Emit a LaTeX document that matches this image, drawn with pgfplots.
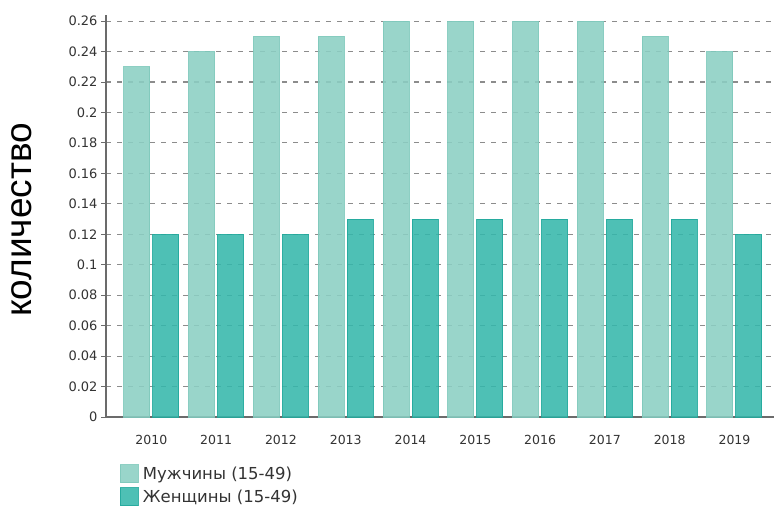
\documentclass[border=0pt]{standalone}
\usepackage{pgfplots}
\pgfplotsset{compat=1.18}
\usepackage{fontspec}
\setmainfont{DejaVu Sans}
\newfontfamily\labfont{Liberation Sans}
\definecolor{menc}{HTML}{8BCFC3}
\definecolor{menb}{HTML}{7FC9BC}
\definecolor{womc}{HTML}{35B7AB}
\definecolor{womb}{HTML}{22A99C}
\definecolor{axc}{HTML}{6B6B6B}
\definecolor{gridc}{HTML}{8C8C8C}
\definecolor{txt}{HTML}{333333}
\begin{document}
\begin{tikzpicture}
\path[use as bounding box] (0pt,0pt) rectangle (774pt,507pt);
\node[rotate=90, font=\labfont\fontsize{37}{37}\selectfont, text=black] at (22pt,287pt) {количество};
\begin{axis}[
  at={(106pt,90pt)}, anchor=south west,
  scale only axis, width=668pt, height=402pt,
  ybar=3pt, bar width=26pt,
  xmin=-0.7, xmax=9.61, ymin=0, ymax=0.264,
  xtick=data,
  xticklabels={2010,2011,2012,2013,2014,2015,2016,2017,2018,2019},
  ytick={0,0.02,...,0.261},
  axis x line*=bottom, axis y line*=left,
  axis line style={axc, line width=1.5pt},
  x tick style={draw=none},
  y tick style={axc, line width=1pt},
  major tick length=5pt,
  tick align=outside,
  ymajorgrids,
  grid style={gridc, line width=1.1pt, dash pattern=on 5pt off 6pt},
  /pgf/number format/assume math mode=true,
  /pgf/number format/.cd, fixed, precision=2, /pgfplots/.cd,
  yticklabel style={font=\fontsize{13}{13}\selectfont, text=txt},
  xticklabel style={font=\fontsize{12.5}{13}\selectfont, text=txt},
  xticklabel shift=10pt,
  legend style={at={(0.016,-0.112)}, anchor=north west, draw=none, fill=none,
    font=\fontsize{16.5}{19}\selectfont, text=txt, row sep=4pt,
    nodes={inner xsep=4pt}},
  legend cell align=left,
  legend image code/.code={\draw[#1] (0pt,-9pt) rectangle (18pt,9pt);},
]
\addplot[fill=menc, draw=menb, line width=1pt, opacity=0.88] coordinates {
(0,0.23) (1,0.24) (2,0.25) (3,0.25) (4,0.26) (5,0.26) (6,0.26) (7,0.26) (8,0.25) (9,0.24)};
\addplot[fill=womc, draw=womb, line width=1pt, opacity=0.88] coordinates {
(0,0.12) (1,0.12) (2,0.12) (3,0.13) (4,0.13) (5,0.13) (6,0.13) (7,0.13) (8,0.13) (9,0.12)};
\legend{Мужчины (15-49), Женщины (15-49)}
\end{axis}
\end{tikzpicture}
\end{document}
